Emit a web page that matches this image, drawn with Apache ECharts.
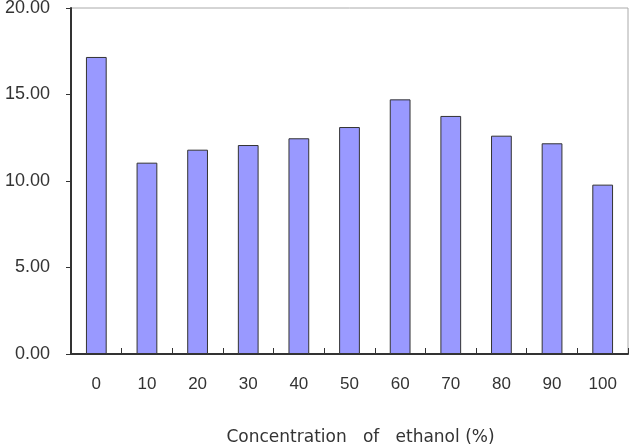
<!DOCTYPE html>
<html>
<head>
<meta charset="utf-8">
<script src="https://cdn.jsdelivr.net/npm/echarts@6/dist/echarts.min.js"></script>
<style>
  html, body { margin: 0; padding: 0; background: #fff; }
  #chart { width: 631px; height: 446px; }
</style>
</head>
<body>
<div id="chart"></div>
<script>
var categories = ['0', '10', '20', '30', '40', '50', '60', '70', '80', '90', '100'];
var values = [17.17, 11.06, 11.81, 12.08, 12.47, 13.12, 14.72, 13.76, 12.62, 12.18, 9.79];
var yTicks = [0, 5, 20];

var chart = echarts.init(document.getElementById('chart'), null, { renderer: 'canvas' });
var font = 'Liberation Sans, Arial, sans-serif';

chart.setOption({
  animation: false,
  grid: {
    left: 71,
    right: 3,
    top: 8,
    bottom: 92,
    outerBoundsMode: 'none',
    show: true,
    borderColor: '#aaaaaa',
    borderWidth: 1
  },
  xAxis: {
    type: 'category',
    data: categories,
    name: 'Concentration   of   ethanol (%)',
    nameLocation: 'middle',
    nameGap: 75,
    nameTextStyle: { color: '#333', fontSize: 17, fontFamily: 'DejaVu Sans, sans-serif', padding: [0, 0, 0, 22] },
    axisLine: { lineStyle: { color: '#333', width: 2 } },
    axisTick: { show: true, inside: true, length: 6, lineStyle: { color: '#333' } },
    axisLabel: { color: '#333', fontSize: 17, fontFamily: font, margin: 22 }
  },
  yAxis: {
    type: 'value',
    min: yTicks[0],
    max: yTicks[2],
    interval: yTicks[1],
    axisLine: { show: true, lineStyle: { color: '#333', width: 2 } },
    axisTick: { show: true, length: 5, lineStyle: { color: '#333' } },
    splitLine: { show: false },
    axisLabel: {
      color: '#333',
      fontSize: 18,
      fontFamily: font,
      margin: 21,
      formatter: function(v) { return v.toFixed(2); }
    }
  },
  series: [{
    type: 'bar',
    data: values,
    barWidth: '41%',
    itemStyle: { color: '#9999ff', borderColor: '#333', borderWidth: 1 }
  }]
});
</script>
</body>
</html>
